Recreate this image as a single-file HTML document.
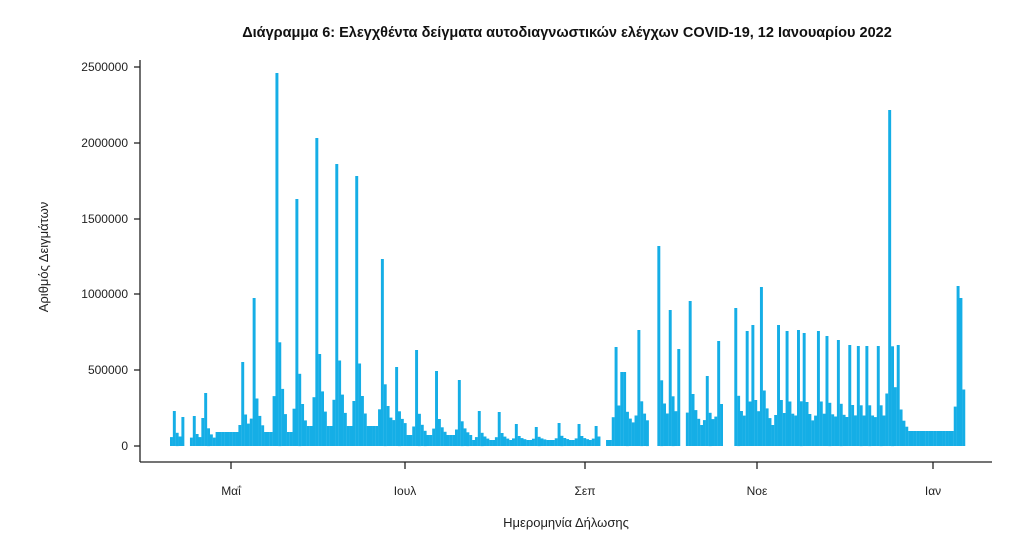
<!DOCTYPE html>
<html><head><meta charset="utf-8"><style>
body{margin:0;background:#fff;width:1024px;height:558px;overflow:hidden;font-family:"Liberation Sans",sans-serif}
svg{display:block}
</style></head><body>
<svg id="s" width="1024" height="558" xmlns="http://www.w3.org/2000/svg">
<text x="567" y="37" text-anchor="middle" font-size="14.5" font-weight="bold" fill="#111">Διάγραμμα 6: Ελεγχθέντα δείγματα αυτοδιαγνωστικών ελέγχων COVID-19, 12 Ιανουαρίου 2022</text>
<g id="bars" fill="#15aee6"></g>
<g stroke="#222" stroke-width="1.3" fill="none">
<line x1="140" y1="60" x2="140" y2="462"/>
<line x1="140" y1="462" x2="992" y2="462"/>
<line x1="134" y1="67" x2="140" y2="67"/>
<line x1="134" y1="143" x2="140" y2="143"/>
<line x1="134" y1="219" x2="140" y2="219"/>
<line x1="134" y1="294" x2="140" y2="294"/>
<line x1="134" y1="370" x2="140" y2="370"/>
<line x1="134" y1="446" x2="140" y2="446"/>
<line x1="231" y1="462" x2="231" y2="469"/>
<line x1="405" y1="462" x2="405" y2="469"/>
<line x1="585" y1="462" x2="585" y2="469"/>
<line x1="757" y1="462" x2="757" y2="469"/>
<line x1="933" y1="462" x2="933" y2="469"/>
</g>
<g font-size="12" fill="#222" text-anchor="end">
<text x="128" y="71">2500000</text><text x="128" y="147">2000000</text>
<text x="128" y="223">1500000</text><text x="128" y="298">1000000</text>
<text x="128" y="374">500000</text><text x="128" y="450">0</text>
</g>
<g font-size="12" fill="#222" text-anchor="middle">
<text x="231" y="495">Μαΐ</text><text x="405" y="495">Ιουλ</text><text x="585" y="495">Σεπ</text>
<text x="757" y="495">Νοε</text><text x="933" y="495">Ιαν</text>
<text x="566" y="527" font-size="13">Ημερομηνία Δήλωσης</text>
</g>
<text transform="translate(48,257) rotate(-90)" font-size="13" fill="#222" text-anchor="middle">Αριθμός Δειγμάτων</text>
</svg>
<script>
var B=446,step=2.85,x0=170,N=279;
var y=new Array(N).fill(null);
function base(x){if(x<215)return 440;if(x<300)return 432;if(x<400)return 426;if(x<470)return 435;if(x<610)return 440;if(x<890)return 425;if(x<955)return 431;return 420;}
for(var i=0;i<N;i++){y[i]=base(x0+i*step);}
var sp=[[172,411],[180,417],[192,416],[200,418],[204,393],[240,362],[253,298],[276,73],[296,199],[316,138],[336,164],[356,176],[382,259],[396,367],[416,350],[436,371],[457,380],[478,411],[498,412],[516,424],[536,427],[557,423],[577,424],[595,426],
[614,347],[620,372],[624,372],[636,330],[658,246],[669,310],[677,349],[688,301],[705,376],[717,341],[733,308],[747,331],[751,325],[760,287],[776,325],[785,331],[796,330],[804,333],[816,331],[826,336],[838,340],[849,345],[857,346],[866,346],[878,346],[887,110],[898,345],[956,286],[960,298],[963,412]];
sp.forEach(function(p){var d=Math.round((p[0]-x0)/step);if(d<0||d>=N)return;var bb=base(p[0]);var h=bb-p[1];
function set(k,v){if(k>=0&&k<N&&v<y[k])y[k]=v;}
set(d,p[1]);set(d+1,bb-h*0.25);set(d+2,bb-h*0.12);set(d-1,bb-h*0.1);set(d+3,bb-h*0.05);});
var gaps=[[648,656],[680,684],[722,732],[184,188],[598,604]];
var g=document.getElementById('bars'),s='';
for(var i=0;i<N;i++){var x=x0+i*step;var skip=false;gaps.forEach(function(q){if(x>=q[0]&&x<q[1])skip=true;});if(skip)continue;
s+='<rect x="'+x.toFixed(2)+'" y="'+y[i].toFixed(1)+'" width="'+(step+0.1).toFixed(2)+'" height="'+(B-y[i]).toFixed(1)+'"/>';}
g.innerHTML=s;
</script>
</body></html>
